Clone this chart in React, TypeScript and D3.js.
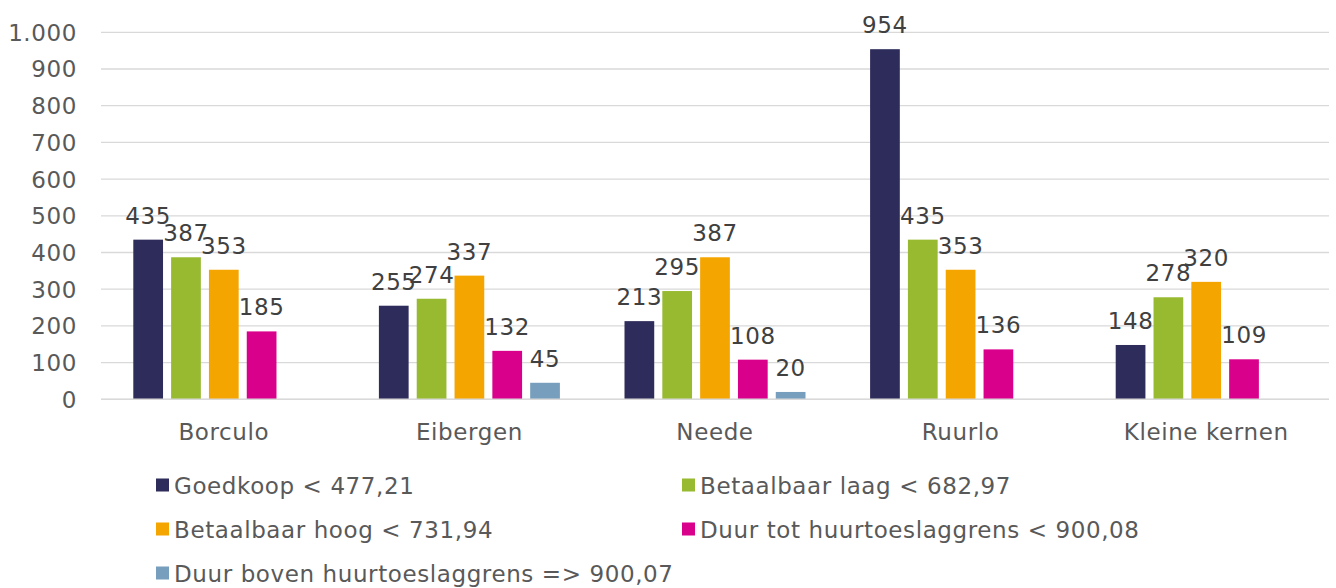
import React, { useEffect, useRef } from 'react';
import * as d3 from 'd3';

const categories = ['Borculo', 'Eibergen', 'Neede', 'Ruurlo', 'Kleine kernen'];
const seriesNames = [
  'Goedkoop < 477,21',
  'Betaalbaar laag < 682,97',
  'Betaalbaar hoog < 731,94',
  'Duur tot huurtoeslaggrens < 900,08',
  'Duur boven huurtoeslaggrens => 900,07',
];
const seriesColors = ['#2e2c5b', '#97ba30', '#f5a500', '#d9008c', '#779fbd'];
const goedkoop = [435, 255, 213, 954, 148];
const betaalbaarLaag = [387, 274, 295, 435, 278];
const betaalbaarHoog = [353, 337, 387, 353, 320];
const duurTot = [185, 132, 108, 136, 109];
const duurBoven = [null, 45, 20, null, null];
const yTicks = [0, 100, 200, 300, 400, 500, 600, 700, 800, 900, 1000];

const allSeries = [goedkoop, betaalbaarLaag, betaalbaarHoog, duurTot, duurBoven];

export default function App() {
  const svgRef = useRef<SVGSVGElement>(null);

  useEffect(() => {
    if (!svgRef.current) return;
    const svg = d3.select(svgRef.current);
    svg.selectAll('*').remove();

    const font = 'Verdana, "DejaVu Sans", sans-serif';
    const fontSize = '23px';
    const spacing = '0.6px';
    const left = 101;
    const right = 1329;
    const top = 32.3;
    const bottom = 399.3;

    const y = d3.scaleLinear().domain([0, 1000]).range([bottom, top]);
    const x0 = d3.scaleBand<string>().domain(categories).range([left, right]);
    const inset = 32.3;
    const x1 = d3.scaleBand<number>()
      .domain(d3.range(allSeries.length))
      .range([inset, x0.bandwidth() - inset])
      .paddingInner(0.214);

    // gridlines
    svg.append('g')
      .selectAll('line')
      .data(yTicks)
      .enter()
      .append('line')
      .attr('x1', left)
      .attr('x2', right)
      .attr('y1', d => y(d))
      .attr('y2', d => y(d))
      .attr('stroke', '#d9d9d9')
      .attr('stroke-width', 1.3);

    // y labels
    svg.append('g')
      .selectAll('text')
      .data(yTicks)
      .enter()
      .append('text')
      .attr('x', 77)
      .attr('y', d => y(d) + 8.4)
      .attr('text-anchor', 'end')
      .style('font-family', font)
      .style('font-size', fontSize)
      .style('letter-spacing', spacing)
      .style('fill', '#595959')
      .text(d => d3.format(',')(d).replace(/,/g, '.'));

    // bars
    const groups = svg.append('g')
      .selectAll('g')
      .data(categories)
      .enter()
      .append('g')
      .attr('transform', d => `translate(${x0(d)},0)`);

    groups.each(function (cat, ci) {
      const g = d3.select(this);
      allSeries.forEach((s, si) => {
        const v = s[ci];
        if (v == null) return;
        g.append('rect')
          .attr('x', x1(si)!)
          .attr('y', y(v))
          .attr('width', x1.bandwidth())
          .attr('height', y(0) - y(v))
          .attr('fill', seriesColors[si]);
        g.append('text')
          .attr('x', x1(si)! + x1.bandwidth() / 2)
          .attr('y', y(v) - 16)
          .attr('text-anchor', 'middle')
          .style('font-family', font)
          .style('font-size', fontSize)
          .style('letter-spacing', spacing)
          .style('fill', '#404040')
          .text(v);
      });
    });

    // baseline
    svg.append('line')
      .attr('x1', left)
      .attr('x2', right)
      .attr('y1', y(0))
      .attr('y2', y(0))
      .attr('stroke', '#d9d9d9')
      .attr('stroke-width', 1.5);

    // category labels
    svg.append('g')
      .selectAll('text')
      .data(categories)
      .enter()
      .append('text')
      .attr('x', d => x0(d)! + x0.bandwidth() / 2)
      .attr('y', 440)
      .attr('text-anchor', 'middle')
      .style('font-family', font)
      .style('font-size', fontSize)
      .style('letter-spacing', spacing)
      .style('fill', '#595959')
      .text(d => d);

    // legend
    const legendPos = [
      [156, 485], [682, 485],
      [156, 529], [682, 529],
      [156, 573],
    ];
    seriesNames.forEach((name, i) => {
      const [lx, ly] = legendPos[i];
      svg.append('rect')
        .attr('x', lx)
        .attr('y', ly - 6.5)
        .attr('width', 13)
        .attr('height', 13)
        .attr('fill', seriesColors[i]);
      svg.append('text')
        .attr('x', lx + 18)
        .attr('y', ly + 8.5)
        .style('font-family', font)
        .style('font-size', fontSize)
        .style('letter-spacing', spacing)
        .style('fill', '#595959')
        .text(name);
    });
  }, []);

  return (
    <svg
      ref={svgRef}
      width={1336}
      height={588}
      style={{ position: 'absolute', left: 0, top: 0, background: '#fff' }}
    />
  );
}
